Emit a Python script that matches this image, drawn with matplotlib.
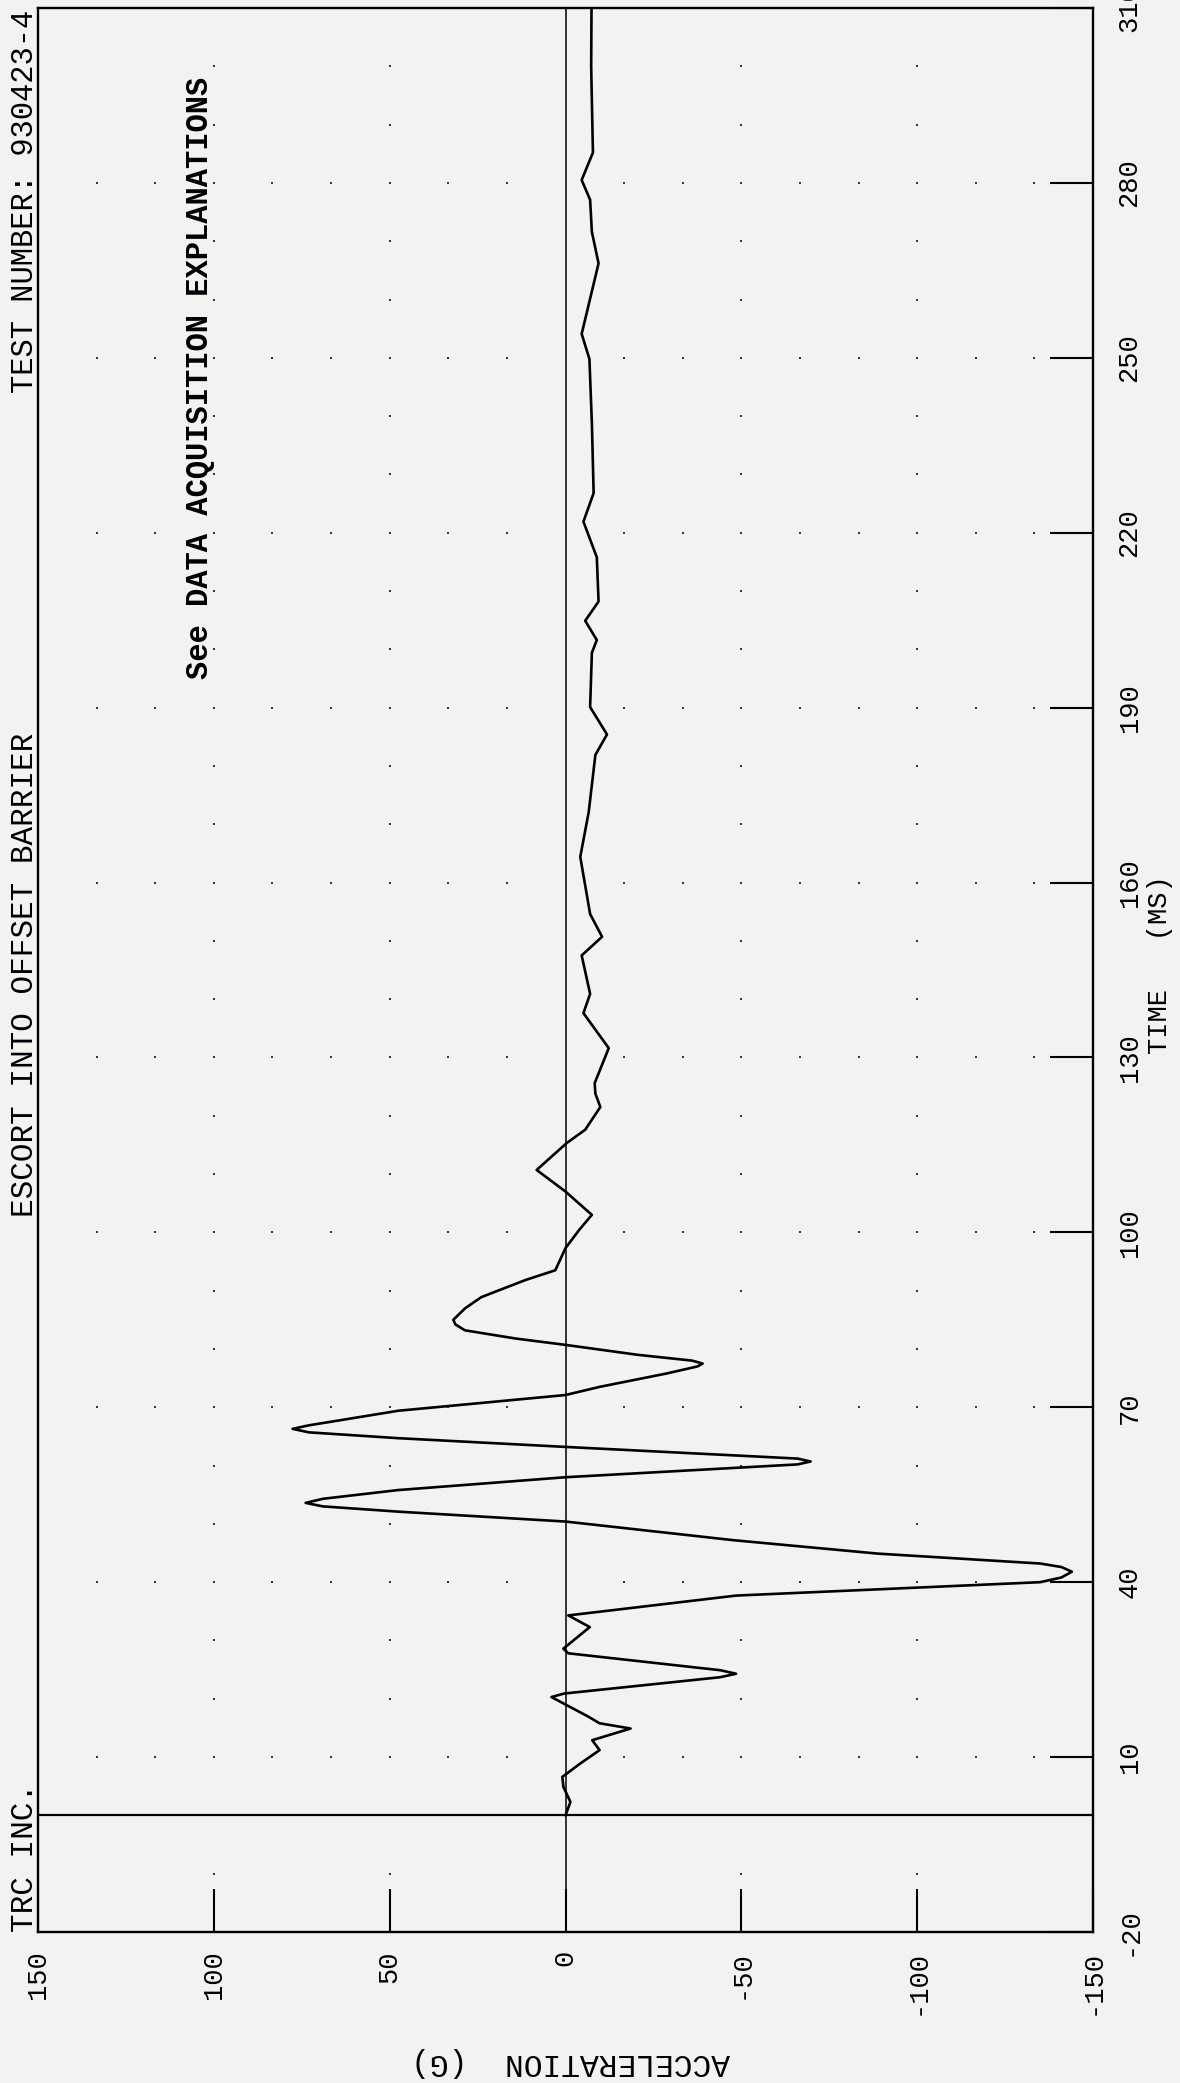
import numpy as np
import matplotlib
matplotlib.use("Agg")
import matplotlib.pyplot as plt

# ---------------- data ----------------
time_ms = [0, 2.3, 4.9, 6.6, 8.9, 11.2, 12.9, 14.9, 15.8, 17.0, 20.3, 20.9,
           23.7, 24.3, 24.9, 27.8, 28.6, 32.3, 34.3, 37.7, 40.0, 40.8, 41.8,
           42.6, 43.2, 44.9, 47.2, 50.4, 52.1, 53.0, 53.6, 54.3, 55.8, 58.0,
           60.2, 60.7, 61.2, 63.2, 64.7, 65.7, 66.3, 66.9, 69.4, 72.1,
           73.5, 75.8, 77.0, 77.5, 78.0, 79.0, 80.7, 81.8, 83.2, 84.2, 85.0,
           87.0, 88.9, 91.8, 93.5, 97.3, 100.5, 103.0, 107.0, 110.7, 115.3,
           117.6, 121.5, 123.8, 125.6, 131.6, 137.6, 140.9, 147.5, 150.7, 154.6,
           164.4, 172.1, 181.9, 185.4, 190.1, 199.4, 201.6, 204.9, 208.2, 215.8,
           221.9, 226.8, 238.8, 249.8, 254.1, 266.2, 271.6, 277.1, 280.5, 285.2,
           300.0, 310.0]
accel_g = [0, -1.4, 0.6, 0.9, -4.2, -9.7, -7.6, -18.5, -9.7, -6.3, 4.0, 0.4,
           -44, -48.5, -44, -0.8, 0.6, -6.9, -0.8, -48.5, -135, -141, -144,
           -141, -135, -88.8, -47.8, 0, 47.6, 69, 73.9, 69, 47.6, 0,
           -66, -69.7, -66, 0, 47.6, 73, 77.6, 73, 47.6, 0,
           -9.7, -28.8, -37.5, -39, -36, -20.5, 0, 14.3, 28.6, 31.3, 31.9,
           28.5, 23.9, 11.5, 2.9, 0, -4, -7.5, 0, 8.2, -0.3,
           -5.6, -9.9, -8.5, -8.3, -12.3, -5.1, -7.0, -4.6, -10.4, -7.0,
           -4.2, -6.6, -8.5, -11.8, -7.0, -7.5, -8.9, -5.6, -9.4, -8.9,
           -5.1, -8.0, -7.5, -6.8, -4.6, -9.4, -7.5, -7.0, -4.6, -7.8,
           -7.3, -7.4]

accel_ticks = [150, 100, 50, 0, -50, -100, -150]
accel_tick_labels = ["150", "100", "50", "0", "-50", "-100", "-150"]
time_ticks = [-20, 10, 40, 70, 100, 130, 160, 190, 220, 250, 280, 310]
time_tick_labels = ["-20", "10", "40", "70", "100", "130", "160", "190",
                    "220", "250", "280", "310"]

title = "ESCORT INTO OFFSET BARRIER"
test_number = "TEST NUMBER: 930423-4"
company = "TRC INC."
note = "See DATA ACQUISITION EXPLANATIONS"
accel_label = "ACCELERATION  (G)"
time_label = "TIME   (MS)"

# ---------------- figure ----------------
W, H = 1180, 2083
BG = "#f4f2f1"
MONO = ["Liberation Mono", "DejaVu Sans Mono"]

fig = plt.figure(figsize=(W / 100, H / 100), dpi=100)
fig.patch.set_facecolor(BG)


def fx(px):
    return px / W


def fy(py):
    return 1 - py / H


ax = fig.add_axes([fx(38), fy(1932), 1055 / W, 1924 / H])
ax.set_facecolor(BG)
ax.set_xlim(150, -150)
ax.set_ylim(-20, 310)

# dotted grid
grid_cols = np.arange(-8, 9) * 50.0 / 3.0
dot_a, dot_t = [], []
for t in time_ticks[1:-1]:
    for a in grid_cols:
        if abs(a) > 1e-6:
            dot_a.append(a)
            dot_t.append(t)
for a in (100, 50, -50, -100):
    for t in range(-10, 310, 10):
        dot_a.append(a)
        dot_t.append(t)
ax.scatter(dot_a, dot_t, s=3.2, marker="s", color="#3a3a3a", linewidths=0, zorder=1)

# reference lines
ax.axvline(0, color="black", lw=1.1, zorder=2)
ax.axhline(0, color="black", lw=1.6, zorder=2)

# trace
ax.plot(accel_g, time_ms, color="black", lw=1.9, solid_joinstyle="round",
        solid_capstyle="round", zorder=3)

for sp in ax.spines.values():
    sp.set_linewidth(1.7)
    sp.set_color("black")

# accel ticks (bottom)
ax.set_xticks(accel_ticks)
ax.set_xticklabels(accel_tick_labels, rotation=90, va="top", ha="center",
                   family=MONO, fontsize=19.5)
ax.tick_params(axis="x", direction="in", length=31, width=1.5, pad=13,
               bottom=True, top=False, colors="black")

# time ticks (right)
ax.yaxis.tick_right()
ax.set_yticks(time_ticks)
ax.set_yticklabels(time_tick_labels, rotation=90, va="center", ha="left",
                   family=MONO, fontsize=19.5)
ax.tick_params(axis="y", direction="in", length=31, width=1.5, pad=17,
               right=True, left=False, colors="black")

# header / annotation texts
fig.text(fx(25), fy(975), title, rotation=90, ha="center", va="center",
         family=MONO, fontsize=22.3)
fig.text(fx(25), fy(10), test_number, rotation=90, ha="center", va="top",
         family=MONO, fontsize=22.0)
fig.text(fx(25), fy(1932), company, rotation=90, ha="center", va="bottom",
         family=MONO, fontsize=22.3)
fig.text(fx(200), fy(378), note, rotation=90, ha="center", va="center",
         family=MONO, fontsize=22.0, fontweight="bold")
fig.text(fx(1160), fy(965), time_label, rotation=90, ha="center", va="center",
         family=MONO, fontsize=19.5)
fig.text(fx(571), fy(2062), accel_label, rotation=180, ha="center", va="center",
         family=MONO, fontsize=22.5)

fig.savefig("out.png", dpi=100, facecolor=BG)
